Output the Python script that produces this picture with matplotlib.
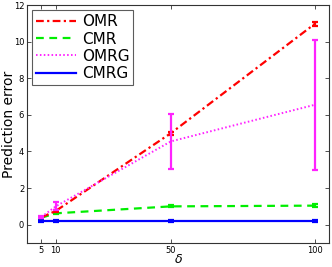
import matplotlib
matplotlib.use("Agg")
import matplotlib.pyplot as plt

delta = [5, 10, 50, 100]
omr = [0.4, 0.75, 5.0, 10.97]
omr_err = [0.03, 0.05, 0.08, 0.1]
cmr = [0.38, 0.62, 1.0, 1.04]
cmr_err = [0.03, 0.04, 0.05, 0.08]
omrg = [0.42, 1.0, 4.55, 6.55]
omrg_err = [0.05, 0.22, 1.5, 3.55]
cmrg = [0.22, 0.22, 0.22, 0.22]
cmrg_err = [0.05, 0.05, 0.05, 0.05]

xticks = [5, 10, 50, 100]
yticks = [0, 2, 4, 6, 8, 10, 12]

fig = plt.figure(figsize=(3.32, 2.67), dpi=100)
ax = fig.add_axes([0.0813, 0.09, 0.91, 0.891])

series = [
    (omr, omr_err, '#ff0000', (0, (3.5, 1.5, 1, 1.5)), 1.6, 'OMR', 4),
    (cmr, cmr_err, '#00ee00', (0, (3.5, 2.5)), 1.6, 'CMR', 3),
    (omrg, omrg_err, '#ff22ff', (0, (0.8, 1.2)), 1.4, 'OMRG', 5),
    (cmrg, cmrg_err, '#0000ff', '-', 1.6, 'CMRG', 2),
]
for vals, err, c, ls, lw, lab, z in series:
    ax.plot(delta, vals, color=c, ls=ls, lw=lw, label=lab, zorder=z)
    ax.errorbar(delta, vals, yerr=err, color=c, ls='none', capsize=2.5,
                elinewidth=1.6, capthick=1.6, zorder=z)

ax.set_xlim(0, 105)
ax.set_ylim(-1, 12)
ax.set_xticks(xticks)
ax.set_xticklabels([str(t) for t in xticks])
ax.set_yticks(yticks)
ax.tick_params(direction='in', top=True, right=True, labelsize=6, length=3, width=0.6, pad=2,
               colors='#333333', labelcolor='black')
for s in ax.spines.values():
    s.set_linewidth(0.8)
    s.set_color('#333333')

ax.set_ylabel('Prediction error', fontsize=10, va='center')
ax.yaxis.set_label_coords(-0.061, 0.5)
ax.set_xlabel(r'$\delta$', fontsize=9, labelpad=-1)

leg = ax.legend(loc='upper left', fontsize=11, frameon=True, fancybox=False,
                handlelength=2.6, borderpad=0.25, labelspacing=0.15, handletextpad=0.4,
                borderaxespad=0.35)
leg.get_frame().set_edgecolor('#333333')
leg.get_frame().set_linewidth(0.8)

fig.savefig('out.png', dpi=100)
